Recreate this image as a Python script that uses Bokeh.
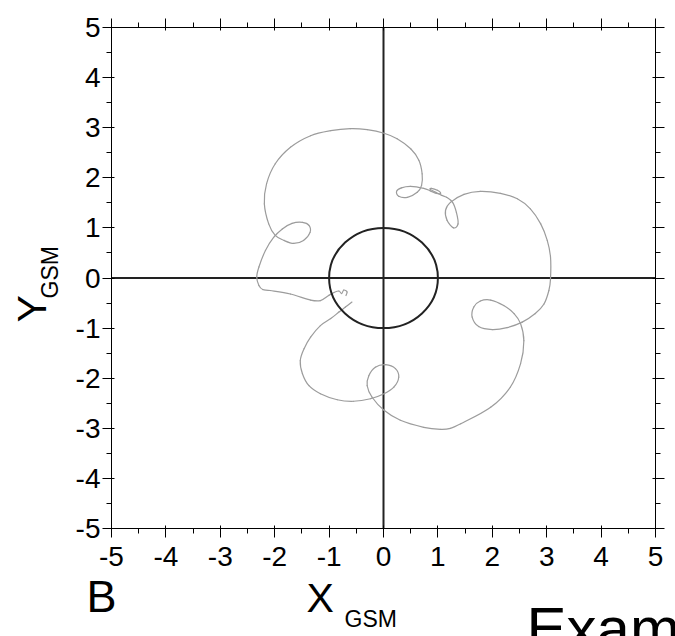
import math
from bokeh.plotting import figure
from bokeh.models import Range1d, LinearAxis, SingleIntervalTicker, Label
from bokeh.embed import file_html
from bokeh.resources import INLINE

# ---- data (GSM coordinates, Earth radii) ----
traj_x = [-0.58, -0.70, -0.82, -0.97, -1.16, -1.34, -1.46, -1.53, -1.49, -1.37,
          -1.16, -0.85, -0.55, -0.24, 0.01, 0.19, 0.28, 0.22, 0.04, -0.15,
          -0.27, -0.30, -0.21, 0.01, 0.31, 0.74, 1.05, 1.23, 1.42, 1.97,
          2.33, 2.52, 2.58, 2.52, 2.40, 2.21, 1.97, 1.78, 1.66, 1.63,
          1.75, 2.00, 2.27, 2.55, 2.79, 2.95, 3.04, 3.07, 3.07, 3.01,
          2.89, 2.70, 2.46, 2.15, 1.78, 1.48, 1.23, 1.14, 1.17, 1.29,
          1.37, 1.34, 1.27, 1.16, 1.07, 0.96, 0.86, 0.88, 0.99, 1.05,
          0.97, 0.86, 0.74, 0.50, 0.33, 0.24, 0.28, 0.44, 0.62, 0.70,
          0.71, 0.65, 0.50, 0.25, 0.01, -0.30, -0.61, -0.97, -1.34, -1.71,
          -1.99, -2.15, -2.19, -2.11, -1.99, -1.83, -1.65, -1.47, -1.35, -1.37,
          -1.49, -1.68, -1.86, -2.02, -2.17, -2.29, -2.33, -2.29, -2.22, -2.08,
          -1.71, -1.34, -1.16, -1.01, -0.91, -0.82, -0.77, -0.73, -0.67, -0.69]
traj_y = [-0.48, -0.58, -0.68, -0.81, -0.95, -1.18, -1.41, -1.65, -1.91, -2.15,
          -2.31, -2.43, -2.46, -2.41, -2.31, -2.18, -1.98, -1.81, -1.73, -1.78,
          -1.95, -2.15, -2.38, -2.64, -2.84, -2.98, -3.02, -3.00, -2.91, -2.58,
          -2.18, -1.71, -1.25, -0.91, -0.71, -0.55, -0.44, -0.46, -0.58, -0.78,
          -0.97, -1.03, -0.99, -0.88, -0.71, -0.52, -0.25, -0.02, 0.42, 0.75,
          1.08, 1.38, 1.58, 1.69, 1.73, 1.67, 1.51, 1.35, 1.15, 1.00,
          1.08, 1.31, 1.51, 1.61, 1.65, 1.71, 1.77, 1.79, 1.75, 1.69,
          1.69, 1.74, 1.79, 1.83, 1.80, 1.73, 1.63, 1.61, 1.71, 1.85,
          2.08, 2.35, 2.58, 2.78, 2.89, 2.96, 2.98, 2.94, 2.84, 2.61,
          2.28, 1.88, 1.48, 1.08, 0.85, 0.75, 0.69, 0.75, 0.91, 1.05,
          1.11, 1.09, 0.98, 0.81, 0.55, 0.22, 0.02, -0.15, -0.23, -0.25,
          -0.32, -0.44, -0.45, -0.35, -0.29, -0.26, -0.31, -0.24, -0.28, -0.35]

earth_x = [0.0]
earth_y = [0.0]
earth_diameter = [2.0]

axis_min, axis_max = -5, 5
tick_values = [-5, -4, -3, -2, -1, 0, 1, 2, 3, 4, 5]
tick_labels = ["-5", "-4", "-3", "-2", "-1", "0", "1", "2", "3", "4", "5"]

FONT = "Liberation Sans"
W, H = 675, 636
# pixel box of the -5..5 square inside the canvas
BOX_L, BOX_R, BOX_T, BOX_B = 111, 655, 27, 528

ux = (BOX_R - BOX_L) / (axis_max - axis_min)
uy = (BOX_B - BOX_T) / (axis_max - axis_min)
x_range = Range1d(axis_min - BOX_L / ux, axis_max + (W - BOX_R) / ux)
y_range = Range1d(axis_min - (H - BOX_B) / uy, axis_max + BOX_T / uy)

p = figure(width=W, height=H, output_backend="svg", toolbar_location=None,
           x_range=x_range, y_range=y_range, min_border=0, title=None,
           x_axis_type=None, y_axis_type=None)
p.xgrid.visible = False
p.ygrid.visible = False
p.outline_line_color = None
p.background_fill_color = "white"
p.border_fill_color = "white"


def make_axis(show_labels, loc, standoff=5):
    ax = LinearAxis(ticker=SingleIntervalTicker(interval=1, num_minor_ticks=2),
                    fixed_location=loc, bounds=(axis_min, axis_max))
    ax.axis_line_color = "black"
    ax.axis_line_width = 1
    ax.major_tick_line_color = "black"
    ax.minor_tick_line_color = "black"
    ax.major_tick_out = 9
    ax.major_tick_in = 3
    ax.minor_tick_out = 5
    ax.minor_tick_in = 0
    ax.major_label_text_font = FONT
    ax.major_label_text_color = "black"
    ax.major_label_overrides = {v: s for v, s in zip(tick_values, tick_labels)}
    if show_labels:
        ax.major_label_text_font_size = "28px"
        ax.major_label_standoff = standoff
    else:
        ax.major_label_text_font_size = "0px"
        ax.major_label_standoff = 0
    return ax


p.add_layout(make_axis(True, axis_min, standoff=9), "below")
p.add_layout(make_axis(True, axis_min, standoff=2), "left")
p.add_layout(make_axis(False, axis_max), "above")
p.add_layout(make_axis(False, axis_max), "right")

# cross hairs through the origin, spanning the axis box
p.line([0, 0], [axis_min, axis_max], line_color="#222222", line_width=2)
p.line([axis_min, axis_max], [0, 0], line_color="#222222", line_width=2)

# smooth rendering of the read trajectory points (Catmull-Rom -> cubic Bezier)
n = len(traj_x)
bx0, by0, bx1, by1, bcx0, bcy0, bcx1, bcy1 = ([] for _ in range(8))
for i in range(n - 1):
    a = i - 1 if i > 0 else i
    d = i + 2 if i + 2 < n else i + 1
    bx0.append(traj_x[i]); by0.append(traj_y[i])
    bx1.append(traj_x[i + 1]); by1.append(traj_y[i + 1])
    bcx0.append(traj_x[i] + (traj_x[i + 1] - traj_x[a]) / 6.0)
    bcy0.append(traj_y[i] + (traj_y[i + 1] - traj_y[a]) / 6.0)
    bcx1.append(traj_x[i + 1] - (traj_x[d] - traj_x[i]) / 6.0)
    bcy1.append(traj_y[i + 1] - (traj_y[d] - traj_y[i]) / 6.0)
p.bezier(x0=bx0, y0=by0, x1=bx1, y1=by1, cx0=bcx0, cy0=bcy0, cx1=bcx1, cy1=bcy1,
         line_color="#9c9c9c", line_width=1.2, line_cap="round")

p.ellipse(x=earth_x, y=earth_y, width=earth_diameter, height=earth_diameter,
          fill_color=None, line_color="#222222", line_width=2)


def lab(text, px, py, size, angle=0.0):
    p.add_layout(Label(x=px, y=H - py, x_units="screen", y_units="screen", text=text,
                       text_font=FONT, text_font_size=size, text_color="black",
                       text_align="left", text_baseline="alphabetic", angle=angle))


lab("Y", 31, 322, "41px", angle=math.pi / 2)
lab("GSM", 49, 298, "23px", angle=math.pi / 2)
lab("B", 86, 596, "45px")
lab("X", 306, 597, "41px")
lab("GSM", 344, 618, "23px")
lab("Example", 526, 628, "60px")

open("out.html", "w").write(file_html(p, INLINE))
